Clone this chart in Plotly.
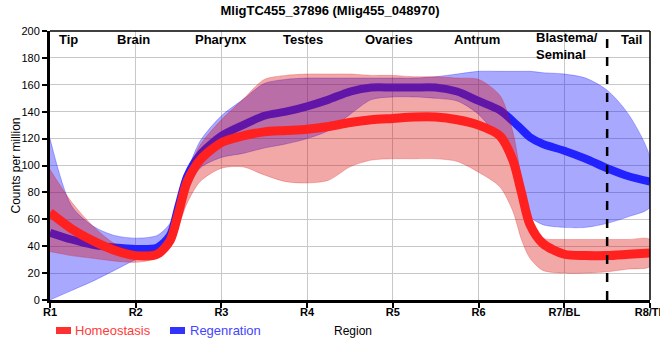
import plotly.graph_objects as go

# ---- data ----
x_pos = [1, 1.25, 1.5, 1.75, 2, 2.25, 2.4, 2.5, 2.6, 2.75, 3, 3.25, 3.5, 3.75, 4, 4.25, 4.5, 4.75,
         5, 5.25, 5.5, 5.75, 6, 6.25, 6.4, 6.5, 6.6, 6.75, 7, 7.25, 7.5, 7.75, 8]

homeo_mean = [65, 53, 44, 37, 33, 34, 44, 65, 88, 104, 117, 122, 125, 126, 127, 129, 132, 134,
              135, 136, 136, 134, 130, 122, 104, 80, 56, 42, 34, 33, 33, 34, 35]
homeo_upper = [97, 73, 55, 42, 36, 38, 47, 70, 92, 115, 134, 149, 164, 167, 168, 168, 168, 167,
               167, 166, 166, 165, 164, 152, 125, 90, 57, 46, 45, 45, 45, 45, 45]
homeo_lower = [36, 33, 31, 29, 28, 31, 39, 55, 72, 88, 98, 99, 93, 88, 87, 89, 99, 104,
               105, 105, 105, 103, 95, 84, 66, 45, 31, 22, 20, 20, 21, 23, 25]

regen_mean = [50, 45, 41, 39, 38, 39, 48, 70, 92, 108, 122, 130, 137, 140, 144, 149, 155, 158,
              158, 158, 158, 155, 148, 141, 133, 127, 121, 116, 111, 105, 98, 92, 88]
regen_upper = [120, 70, 55, 48, 46, 48, 57, 75, 95, 118, 137, 149, 161, 164, 165, 165, 165, 165,
               165, 165, 166, 168, 170, 170, 170, 170, 170, 169, 168, 165, 156, 138, 106]
regen_lower = [0, 7, 14, 22, 30, 36, 46, 62, 80, 98, 106, 109, 113, 116, 120, 126, 138, 149,
               151, 151, 150, 148, 138, 118, 96, 78, 62, 56, 54, 54, 57, 62, 69]

tick_vals = [1, 2, 3, 4, 5, 6, 7, 8]
tick_labels = ["R1", "R2", "R3", "R4", "R5", "R6", "R7/BL", "R8/TL"]

region_names = ["Tip", "Brain", "Pharynx", "Testes", "Ovaries", "Antrum", "Tail"]
region_x = [1.21, 1.97, 3.0, 3.95, 4.96, 5.98, 7.78]
blastema_x = 6.65
boundary_x = 7.5

title_text = "MligTC455_37896 (Mlig455_048970)"

FONT = "Arial, Liberation Sans, sans-serif"

fig = go.Figure()

# regeneration band
fig.add_trace(go.Scatter(
    x=x_pos + x_pos[::-1], y=regen_upper + regen_lower[::-1],
    fill="toself", fillcolor="rgba(0,0,255,0.34)",
    line=dict(color="rgba(0,0,255,0.35)", width=0.8, shape="spline", smoothing=0.8),
    hoverinfo="skip", showlegend=False))
# regeneration line
fig.add_trace(go.Scatter(
    x=x_pos, y=regen_mean, mode="lines",
    line=dict(color="#2222ff", width=8, shape="spline", smoothing=0.8),
    showlegend=False))
# homeostasis band
fig.add_trace(go.Scatter(
    x=x_pos + x_pos[::-1], y=homeo_upper + homeo_lower[::-1],
    fill="toself", fillcolor="rgba(220,0,0,0.34)",
    line=dict(color="rgba(220,0,0,0.3)", width=0.8, shape="spline", smoothing=0.8),
    hoverinfo="skip", showlegend=False))
# homeostasis line
fig.add_trace(go.Scatter(
    x=x_pos, y=homeo_mean, mode="lines",
    line=dict(color="#ff2020", width=9, shape="spline", smoothing=0.8),
    showlegend=False))

annotations = []
for name, xv in zip(region_names, region_x):
    annotations.append(dict(x=xv, y=194, xref="x", yref="y", text="<b>%s</b>" % name,
                            showarrow=False, font=dict(family=FONT, size=13, color="black")))
annotations.append(dict(x=blastema_x, y=188.5, xref="x", yref="y",
                        text="<b>Blastema/</b><br><b>Seminal</b>",
                        showarrow=False, xanchor="left", align="left",
                        font=dict(family=FONT, size=13, color="black")))
# legend text
annotations.append(dict(x=(73 - 50) / 600, y=(300 - 330) / 269, xref="paper", yref="paper",
                        text="Homeostasis", showarrow=False, xanchor="left", yanchor="middle",
                        font=dict(family=FONT, size=13, color="#ff3a3a")))
annotations.append(dict(x=(188 - 50) / 600, y=(300 - 330) / 269, xref="paper", yref="paper",
                        text="Regenration", showarrow=False, xanchor="left", yanchor="middle",
                        font=dict(family=FONT, size=13, color="#4444ff")))
annotations.append(dict(x=(332 - 50) / 600, y=(300 - 331) / 269, xref="paper", yref="paper",
                        text="Region", showarrow=False, xanchor="left", yanchor="middle",
                        font=dict(family=FONT, size=12, color="black")))
annotations.append(dict(x=(15 - 50) / 600, y=0.5, xref="paper", yref="paper",
                        text="Counts per million", showarrow=False, textangle=-90,
                        xanchor="center", yanchor="middle",
                        font=dict(family=FONT, size=12, color="black")))

shapes = [
    dict(type="line", x0=boundary_x, x1=boundary_x, y0=0, y1=200, xref="x", yref="y",
         line=dict(color="black", width=2.5, dash="dash")),
    dict(type="line", x0=0, x1=1, y0=1, y1=1, xref="paper", yref="paper",
         line=dict(color="black", width=1.5)),
    dict(type="line", x0=1, x1=1, y0=0, y1=1, xref="paper", yref="paper",
         line=dict(color="black", width=1.5)),
    dict(type="rect", x0=(56 - 50) / 600, x1=(71 - 50) / 600, y0=(300 - 334) / 269, y1=(300 - 327) / 269,
         xref="paper", yref="paper", line=dict(width=0), fillcolor="#ff3030"),
    dict(type="rect", x0=(170 - 50) / 600, x1=(185 - 50) / 600, y0=(300 - 334) / 269, y1=(300 - 327) / 269,
         xref="paper", yref="paper", line=dict(width=0), fillcolor="#3333ff"),
]

fig.update_layout(
    width=660, height=360,
    margin=dict(l=50, r=10, t=31, b=60, autoexpand=False),
    paper_bgcolor="white", plot_bgcolor="white",
    title=dict(text="<b>%s</b>" % title_text, x=0.5, xanchor="center", y=0.985, yanchor="top",
               font=dict(family=FONT, size=13, color="black")),
    annotations=annotations, shapes=shapes,
    showlegend=False,
    font=dict(family=FONT, color="black"),
)
fig.update_xaxes(
    range=[1, 8], tickvals=tick_vals, ticktext=["<b>%s</b>" % t for t in tick_labels],
    tickfont=dict(family=FONT, size=11, color="black"),
    showgrid=True, gridcolor="#c8c8c8", gridwidth=1,
    showline=True, linecolor="black", linewidth=3,
    ticks="outside", ticklen=5, tickwidth=2, tickcolor="black", zeroline=False,
    automargin=False, ticklabelstandoff=-5, ticklabeloverflow="allow",
)
fig.update_yaxes(
    range=[0, 200], dtick=20,
    tickfont=dict(family=FONT, size=11, color="black"),
    showgrid=True, gridcolor="#c8c8c8", gridwidth=1,
    showline=True, linecolor="black", linewidth=3,
    ticks="outside", ticklen=5, tickwidth=1.5, tickcolor="black", zeroline=False,
    automargin=False,
)

fig.write_html("out.html", config={"displayModeBar": False},
               post_script="document.body.style.margin='0';document.body.style.overflow='hidden';")
